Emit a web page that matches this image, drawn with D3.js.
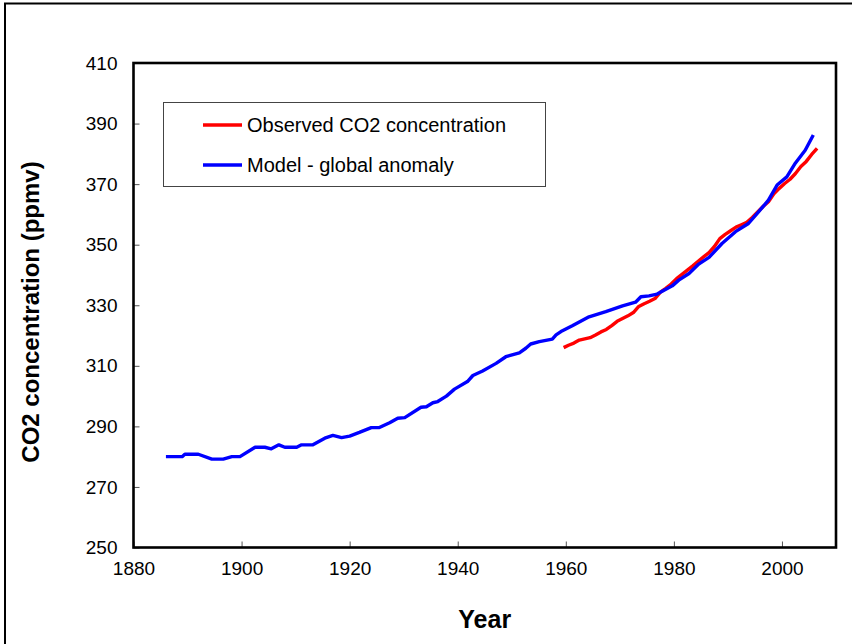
<!DOCTYPE html>
<html>
<head>
<meta charset="utf-8">
<script src="https://cdn.jsdelivr.net/npm/d3@7"></script>
<style>
  html, body { margin: 0; padding: 0; background: #fff; }
  svg { display: block; font-family: "Liberation Sans", Arial, sans-serif; }
</style>
</head>
<body>
<svg id="chart" width="852" height="644"></svg>
<script>
// Modelled CO2 concentration (ppmv) by year
const modelYears = [1886, 1889, 1889.5, 1892, 1894.5, 1896.6, 1898.2, 1899.7, 1902.5, 1904.3,
  1905.5, 1906.9, 1908, 1910.2, 1911.1, 1913.2, 1915.4, 1916.9, 1918.5, 1920,
  1921.8, 1924, 1925.5, 1927.4, 1928.9, 1930.2, 1933.2, 1934.2, 1935.4, 1936.3,
  1937.9, 1939.4, 1941.8, 1942.8, 1944.6, 1947.1, 1948.9, 1951.4, 1952.6, 1953.5,
  1955.1, 1957.5, 1958.2, 1959.1, 1961.2, 1964.3, 1967.4, 1970.5, 1972.9, 1973.9,
  1975.4, 1976.9, 1979.7, 1980.9, 1982.8, 1984.6, 1986.5, 1988.9, 1991.4, 1993.8,
  1995.7, 1997.5, 1999.1, 2000.9, 2002.5, 2004.3, 2005.8];
const modelValues = [280.0, 280.0, 280.8, 280.8, 279.2, 279.2, 280.0, 280.0, 283.1, 283.1,
  282.6, 283.9, 283.1, 283.1, 283.9, 283.9, 286.1, 287.0, 286.3, 286.8,
  288.0, 289.6, 289.6, 291.2, 292.7, 292.9, 296.3, 296.5, 297.8, 298.2,
  300.0, 302.3, 304.8, 306.8, 308.3, 310.8, 313.0, 314.3, 315.8, 317.2,
  318.0, 318.8, 320.2, 321.3, 323.2, 326.2, 327.9, 329.8, 331.0, 332.8,
  333.1, 333.7, 336.4, 338.3, 340.5, 343.6, 345.8, 350.4, 354.3, 357.0,
  360.9, 364.7, 369.7, 372.4, 377.0, 381.2, 386.2];

// Observed CO2 concentration (ppmv), mid-year values
const obsYears = [1959.6, 1960.5, 1961.5, 1962.5, 1963.5, 1964.5, 1965.5, 1966.5, 1967.5, 1968.5,
  1969.5, 1970.5, 1971.5, 1972.5, 1973.5, 1974.5, 1975.5, 1976.5, 1977.5, 1978.5,
  1979.5, 1980.5, 1981.5, 1982.5, 1983.5, 1984.5, 1985.5, 1986.5, 1987.5, 1988.5,
  1989.5, 1990.5, 1991.5, 1992.5, 1993.5, 1994.5, 1995.5, 1996.5, 1997.5, 1998.5,
  1999.5, 2000.5, 2001.5, 2002.5, 2003.5, 2004.5, 2005.5, 2006.5];
const obsValues = [316.0, 316.8, 317.5, 318.5, 318.9, 319.3, 320.2, 321.2, 322.0, 323.3,
  324.7, 325.6, 326.5, 327.6, 329.6, 330.5, 331.3, 332.2, 334.3, 335.6,
  337.0, 338.8, 340.2, 341.6, 343.0, 344.5, 346.0, 347.4, 349.4, 352.0,
  353.4, 354.6, 355.8, 356.6, 357.4, 359.0, 360.8, 362.6, 364.2, 366.8,
  368.6, 370.2, 371.6, 373.5, 375.8, 377.5, 379.8, 381.8];

const xTicks = [1880, 1900, 1920, 1940, 1960, 1980, 2000];
const yTicks = [250, 270, 290, 310, 330, 350, 370, 390, 410];

const seriesNames = ["Observed CO2 concentration", "Model - global anomaly"];
const seriesColors = ["#ff0000", "#0000ff"];

const svg = d3.select("#chart");

// outer frame
svg.append("rect")
  .attr("x", 5).attr("y", 3.5)
  .attr("width", 900).attr("height", 700)
  .attr("fill", "none").attr("stroke", "#000").attr("stroke-width", 2);

const plot = { left: 133.5, right: 836, top: 63, bottom: 547.5 };

const x = d3.scaleLinear().domain([1880, 2010]).range([plot.left, plot.right]);
const y = d3.scaleLinear().domain([250, 410]).range([plot.bottom, plot.top]);

// x axis: ticks point into the plot
const xAxis = d3.axisBottom(x).tickValues(xTicks).tickFormat(d3.format("d"))
  .tickSizeInner(-6).tickSizeOuter(0).tickPadding(14);
const gx = svg.append("g").attr("transform", `translate(0,${plot.bottom})`).call(xAxis);
gx.select(".domain").remove();
gx.selectAll(".tick line").attr("stroke", "#555").attr("stroke-width", 1);
gx.selectAll(".tick text").attr("font-size", 19).attr("fill", "#000")
  .attr("font-family", "Liberation Sans, Arial, sans-serif");

// y axis
const yAxis = d3.axisLeft(y).tickValues(yTicks).tickFormat(d3.format("d"))
  .tickSizeInner(-6).tickSizeOuter(0).tickPadding(16);
const gy = svg.append("g").attr("transform", `translate(${plot.left},0)`).call(yAxis);
gy.select(".domain").remove();
gy.selectAll(".tick line").attr("stroke", "#555").attr("stroke-width", 1);
gy.selectAll(".tick text").attr("font-size", 19).attr("fill", "#000")
  .attr("font-family", "Liberation Sans, Arial, sans-serif");

// plot frame
svg.append("rect")
  .attr("x", plot.left).attr("y", plot.top)
  .attr("width", plot.right - plot.left).attr("height", plot.bottom - plot.top)
  .attr("fill", "none").attr("stroke", "#000").attr("stroke-width", 2.6);

// axis titles
svg.append("text")
  .attr("x", (plot.left + plot.right) / 2).attr("y", 628)
  .attr("text-anchor", "middle").attr("font-size", 25).attr("font-weight", "bold")
  .text("Year");
svg.append("text")
  .attr("transform", "translate(39,312) rotate(-90)")
  .attr("text-anchor", "middle").attr("font-size", 24).attr("font-weight", "bold")
  .text("CO2 concentration (ppmv)");

// series lines
const line = d3.line().x(d => x(d[0])).y(d => y(d[1]));
const modelData = modelYears.map((yr, i) => [yr, modelValues[i]]);
const obsData = obsYears.map((yr, i) => [yr, obsValues[i]]);

svg.append("path").datum(obsData)
  .attr("d", line).attr("fill", "none")
  .attr("stroke", seriesColors[0]).attr("stroke-width", 3.4)
  .attr("stroke-linejoin", "round");
svg.append("path").datum(modelData)
  .attr("d", line).attr("fill", "none")
  .attr("stroke", seriesColors[1]).attr("stroke-width", 3.4)
  .attr("stroke-linejoin", "round");

// legend
const lg = svg.append("g");
lg.append("rect")
  .attr("x", 163.5).attr("y", 102.5).attr("width", 382).attr("height", 84)
  .attr("fill", "#fff").attr("stroke", "#444").attr("stroke-width", 1);
seriesNames.forEach((name, i) => {
  const cy = 125 + i * 40;
  lg.append("line")
    .attr("x1", 203).attr("x2", 242).attr("y1", cy).attr("y2", cy)
    .attr("stroke", seriesColors[i]).attr("stroke-width", 3.4);
  lg.append("text")
    .attr("x", 247).attr("y", cy + 7)
    .attr("font-size", 20).attr("fill", "#000")
    .text(name);
});
</script>
</body>
</html>
